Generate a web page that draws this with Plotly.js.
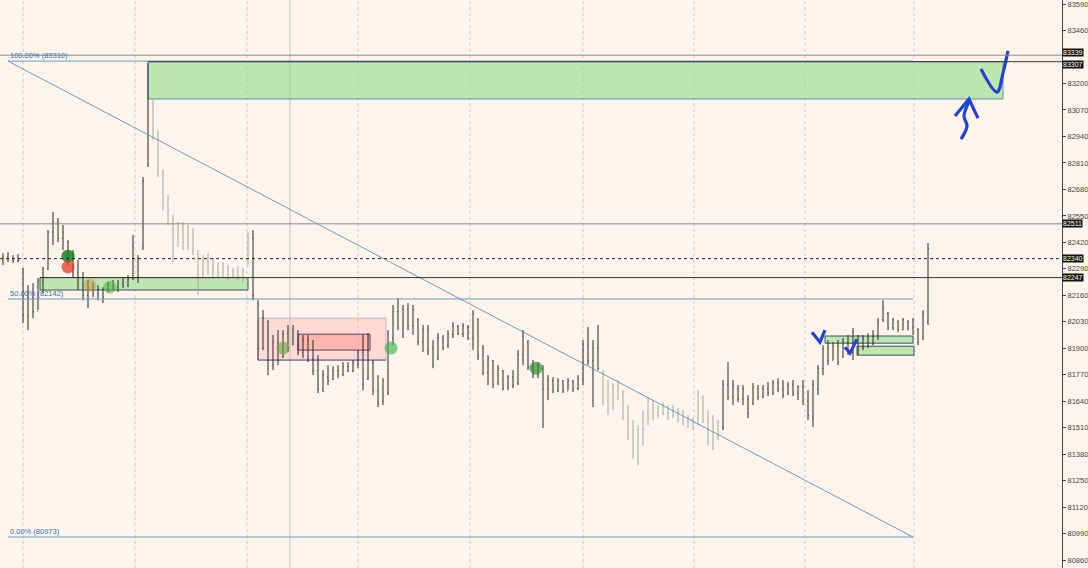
<!DOCTYPE html>
<html><head><meta charset="utf-8">
<script src="https://cdn.plot.ly/plotly-3.0.1.min.js"></script>
<style>html,body{margin:0;padding:0;background:#fdf5ec;}#chart{width:1088px;height:568px;}</style>
</head><body><div id="chart"></div>
<script>
// ---- price bars (bar index order, left to right) ----
const high = [
82367,82372,82357,82362,82294,82210,82220,82245,82299,82480,
82569,82539,82505,82431,82382,82333,82274,82235,82225,82210,
82200,82225,82235,82235,82245,82259,82456,82357,82741,83300,
83119,82971,82775,82652,82554,82520,82520,82505,82490,82382,
82357,82367,82343,82323,82323,82308,82294,82303,82294,82470,
82480,82136,82087,82038,81965,81989,81989,82014,82014,81989,
81965,81965,81940,81866,81793,81817,81812,81817,81832,81832,
81842,81891,81965,81974,81842,81768,81753,81989,82112,82146,
82112,82122,82112,82048,82014,82014,81940,81974,81965,81989,
82028,82014,82023,82014,82087,82048,81915,81866,81842,81817,
81793,81768,81793,81891,81989,81940,81842,81832,81817,81768,
81758,81753,81744,81753,81744,81768,81940,82004,81940,82014,
81793,81744,81729,81744,81694,81621,81547,81522,81596,81660,
81645,81621,81635,81621,81621,81606,81596,81572,81557,81694,
81670,81596,81572,81547,81744,81832,81744,81719,81719,81670,
81729,81719,81719,81734,81744,81753,81744,81734,81744,81719,
81744,81694,81744,81817,81915,81940,81930,81940,81950,81965,
81999,81965,81965,81974,81989,82048,82136,82078,82048,82038,
82048,82038,82048,81999,82087,82416];
const low = [
82308,82323,82318,82323,82023,81989,82048,82087,82171,82284,
82407,82421,82382,82308,82249,82186,82136,82097,82151,82136,
82122,82176,82186,82176,82195,82200,82235,82220,82382,82790,
82922,82741,82578,82505,82323,82397,82382,82382,82357,82161,
82249,82259,82249,82249,82245,82235,82245,82235,82225,82308,
82136,81842,81891,81768,81793,81817,81852,81881,81915,81866,
81852,81832,81768,81680,81685,81719,81744,81753,81763,81783,
81783,81802,81694,81744,81670,81611,81621,81670,81915,81989,
81950,81989,81965,81915,81881,81866,81802,81842,81891,81901,
81950,81965,81955,81940,81891,81842,81768,81719,81704,81719,
81694,81694,81704,81719,81817,81793,81753,81753,81508,81645,
81680,81685,81680,81694,81685,81694,81719,81817,81611,81793,
81621,81572,81596,81645,81547,81449,81360,81326,81424,81522,
81547,81557,81572,81547,81557,81537,81522,81508,81498,81522,
81532,81424,81400,81449,81498,81645,81621,81635,81621,81557,
81621,81645,81655,81665,81670,81685,81655,81670,81665,81645,
81621,81547,81513,81670,81768,81817,81842,81817,81852,81866,
81842,81866,81891,81901,81915,81940,82028,81989,81989,81979,
81989,81989,81965,81915,81940,82014];
const open = [
82330,82350,82340,82330,82290,82060,82150,82080,82230,82290,
82470,82520,82440,82420,82330,82270,82210,82160,82200,82170,
82190,82190,82210,82200,82220,82210,82240,82340,82400,82800,
83100,82950,82770,82600,82540,82450,82480,82420,82460,82380,
82260,82330,82280,82300,82270,82290,82260,82280,82250,82320,
82440,82120,81900,82030,81820,81930,81860,81970,81920,81980,
81880,81940,81850,81790,81700,81760,81750,81790,81770,81810,
81790,81820,81880,81750,81830,81690,81640,81680,81950,82080,
82000,82090,82010,82040,81930,81990,81900,81850,81950,81910,
81970,82010,81970,82000,81950,82040,81900,81780,81840,81730,
81790,81710,81760,81730,81870,81930,81810,81770,81800,81700,
81740,81690,81740,81690,81740,81700,81750,81920,81840,81900,
81780,81640,81720,81660,81680,81560,81470,81400,81500,81580,
81640,81570,81610,81580,81600,81570,81590,81540,81550,81530,
81660,81550,81440,81520,81510,81720,81660,81700,81650,81650,
81630,81700,81660,81700,81680,81730,81700,81680,81720,81680,
81710,81640,81560,81700,81800,81900,81840,81910,81860,81930,
81880,81960,81900,81950,81920,81960,82040,82070,82000,82030,
81990,82030,82000,81990,81950,82030];
const close = [
82350,82340,82330,82330,82060,82150,82080,82230,82290,82470,
82520,82440,82470,82330,82270,82210,82160,82200,82170,82190,
82150,82210,82200,82220,82210,82240,82400,82250,82720,83150,
82950,82780,82600,82540,82450,82480,82420,82460,82380,82260,
82330,82280,82300,82270,82290,82260,82280,82250,82280,82440,
82160,81900,82050,81800,81930,81840,81970,81900,81990,81880,
81940,81850,81790,81700,81770,81740,81790,81770,81810,81790,
81830,81880,81720,81950,81690,81630,81740,81970,82080,82000,
82090,82010,82090,81930,81990,81890,81820,81950,81900,81970,
82010,81970,82010,81950,82070,81860,81780,81850,81720,81800,
81700,81760,81720,81870,81960,81810,81770,81820,81700,81740,
81690,81740,81690,81740,81700,81750,81920,81840,81900,81800,
81640,81720,81610,81700,81560,81470,81380,81500,81580,81640,
81570,81610,81580,81600,81570,81590,81540,81560,81510,81680,
81550,81440,81520,81470,81720,81660,81720,81650,81700,81580,
81710,81660,81700,81680,81730,81700,81670,81720,81680,81710,
81640,81570,81720,81800,81900,81840,81910,81830,81930,81880,
81980,81890,81950,81910,81970,82030,82100,82000,82040,81990,
82040,81990,82040,81930,82070,82390];
// bar index ranges drawn in light grey
const lightBarRanges = [[30,49],[120,143]];

// ---- axis ----
// tick 83330 is hidden behind the level tags in the reference
const yTickVals = [80860,80990,81120,81250,81380,81510,81640,81770,81900,82030,82160,82290,82420,82550,82680,82810,82940,83070,83200,83460,83590];
const yRange = [80821, 83610];
const xRange = [-0.6, 211.8];
// session separators (bar index)
const sessionBreaks = [4, 26.4, 48.8, 71, 93.4, 116, 138.2, 160.4, 182.2];
const solidBreak = 57.4;

// ---- horizontal price levels with right-hand tags ----
const levelPrices = [83339, 83307, 82511, 82340, 82247];
const levelStart  = [null, 29, null, null, 7.4];
const levelStyles = ['grey','dark','grey','dot','dark'];
const levelTagShift = [3, -3, 0, 0, 0];

// ---- fibonacci ----
const fibLevels = [83310, 82142, 80973];
const fibLabels = ['100.00% (83310)', '50.00% (82142)', '0.00% (80973)'];
const fibStart = 1, fibEnd = 182;

// ---- zones [x0, x1, yLow, yHigh] ----
const greenZones = [[29, 200, 83124, 83307], [7.4, 49, 82186, 82247], [164.4, 182, 81925, 81960], [170.8, 182.2, 81866, 81910]];
const pinkOuter = [51, 76.6, 81842, 82048];
const pinkInner = [59, 73.4, 81891, 81969];

// ---- signal circles ----
const sigX = [13, 13, 17.4, 21.4, 56, 77.6, 106.6];
const sigY = [82352, 82299, 82210, 82200, 81901, 81901, 81802];
const sigColor = ['rgba(30,125,40,0.85)','rgba(225,60,35,0.75)','rgba(205,150,70,0.5)','rgba(90,175,80,0.6)','rgba(110,160,70,0.6)','rgba(70,175,80,0.65)','rgba(50,140,50,0.7)'];

// ---- hand-drawn marks ----
const checkTopX = [195.6, 198.8, 200, 200.6, 201];
const checkTopY = [83271, 83158, 83251, 83315, 83360];
const arrowHeadX = [190.4, 193.2, 195];
const arrowHeadY = [83040, 83124, 83030];
const arrowStemX = [193.2, 192.2, 192.8, 191.6];
const arrowStemY = [83110, 83040, 82991, 82927];
const check1X = [161.8, 163.4, 164.4];
const check1Y = [81979, 81930, 81989];
const check2X = [168.4, 169.4, 170.8];
const check2Y = [81905, 81876, 81945];

// ---- build ----
const idx = high.map((_, i) => i);
function isLight(i){ return lightBarRanges.some(r => i >= r[0] && i <= r[1]); }
function pick(arr, light){ return arr.filter((_, i) => isLight(i) === light); }
function ohlcTrace(light, color){
  return {type:'ohlc', x:pick(idx,light), open:pick(open,light), high:pick(high,light), low:pick(low,light), close:pick(close,light),
    increasing:{line:{color:color, width:1}}, decreasing:{line:{color:color, width:1}}, tickwidth:0.12, hoverinfo:'skip', showlegend:false};
}
const traces = [ohlcTrace(false,'#262626'), ohlcTrace(true,'#a4a4a4')];
traces.push({type:'scatter', mode:'markers', x:sigX, y:sigY, marker:{size:13, color:sigColor, line:{width:0}}, showlegend:false, hoverinfo:'skip'});
const pen = {color:'#2343c8', width:3.2};
[[checkTopX,checkTopY,'spline'],[arrowHeadX,arrowHeadY,'linear'],[arrowStemX,arrowStemY,'spline'],[check1X,check1Y,'linear'],[check2X,check2Y,'linear']].forEach(p => {
  traces.push({type:'scatter', mode:'lines', x:p[0], y:p[1], line:Object.assign({shape:p[2]}, pen), showlegend:false, hoverinfo:'skip'});
});

const shapes = [];
sessionBreaks.forEach(x => shapes.push({type:'line', xref:'x', yref:'paper', x0:x, x1:x, y0:0, y1:1, layer:'below', line:{color:'rgba(160,160,160,0.5)', width:1, dash:'dot'}}));
shapes.push({type:'line', xref:'x', yref:'paper', x0:solidBreak, x1:solidBreak, y0:0, y1:1, layer:'below', line:{color:'rgba(150,150,150,0.55)', width:1}});
greenZones.forEach((z, k) => {
  shapes.push({type:'rect', xref:'x', yref:'y', x0:z[0], x1:z[1], y0:z[2], y1:z[3], layer:'below', fillcolor:'rgba(150,220,140,0.6)', line:{color: k===0 ? '#6c86b8' : '#3a5060', width:1}});
});
shapes.push({type:'rect', xref:'x', yref:'y', x0:pinkOuter[0], x1:pinkOuter[1], y0:pinkOuter[2], y1:pinkOuter[3], layer:'below', fillcolor:'rgba(255,170,170,0.35)', line:{color:'rgba(190,160,200,0.8)', width:1}});
shapes.push({type:'line', xref:'x', yref:'y', x0:pinkOuter[0], x1:pinkOuter[1], y0:pinkOuter[2], y1:pinkOuter[2], layer:'below', line:{color:'#6a4a80', width:1}});
shapes.push({type:'rect', xref:'x', yref:'y', x0:pinkInner[0], x1:pinkInner[1], y0:pinkInner[2], y1:pinkInner[3], layer:'below', fillcolor:'rgba(255,140,130,0.45)', line:{color:'#5a3a70', width:1}});
fibLevels.forEach(p => shapes.push({type:'line', xref:'x', yref:'y', x0:fibStart, x1:fibEnd, y0:p, y1:p, line:{color:'#6b9ac8', width:1}}));
shapes.push({type:'line', xref:'x', yref:'y', x0:fibStart, x1:fibEnd, y0:fibLevels[0], y1:fibLevels[2], line:{color:'#5580b0', width:0.8}});
levelPrices.forEach((p, k) => {
  const st = levelStyles[k];
  const ln = st === 'grey' ? {color:'#8a8a8a', width:1} : st === 'dot' ? {color:'#222', width:1, dash:'dot'} : {color:'#333', width:1};
  if (levelStart[k] === null) shapes.push({type:'line', xref:'paper', yref:'y', x0:0, x1:1, y0:p, y1:p, line:ln});
  else shapes.push({type:'line', xref:'x', yref:'y', x0:levelStart[k], x1:xRange[1], y0:p, y1:p, line:ln});
});

const annotations = [];
fibLevels.forEach((p, k) => annotations.push({xref:'x', yref:'y', x:fibStart, y:p, text:fibLabels[k], showarrow:false, xanchor:'left', yanchor:'bottom', yshift:-1, font:{size:7.5, color:'#2f6fb5', family:'Liberation Sans, Arial'}}));
levelPrices.forEach((p, k) => annotations.push({xref:'paper', yref:'y', x:1, y:p, yshift:levelTagShift[k], text:String(p), showarrow:false, xanchor:'left', yanchor:'middle', bgcolor:'#111', borderpad:0, font:{size:7, color:'#fff', family:'Liberation Sans, Arial'}}));

const layout = {
  width:1088, height:568,
  margin:{l:0, r:26, t:0, b:0},
  paper_bgcolor:'#fdf5ec', plot_bgcolor:'#fdf5ec',
  showlegend:false,
  xaxis:{range:xRange, visible:false, rangeslider:{visible:false}, fixedrange:true},
  yaxis:{range:yRange, side:'right', tickmode:'array', tickvals:yTickVals, ticktext:yTickVals.map(String), ticks:'outside', ticklen:3, tickcolor:'#444',
    showline:true, linecolor:'#444', linewidth:1, showgrid:false, zeroline:false, automargin:false, ticklabeloverflow:'allow',
    tickfont:{size:7.5, color:'#444', family:'Liberation Sans, Arial'}},
  shapes:shapes, annotations:annotations
};
Plotly.newPlot('chart', traces, layout, {staticPlot:true, displayModeBar:false});
</script>
</body></html>
